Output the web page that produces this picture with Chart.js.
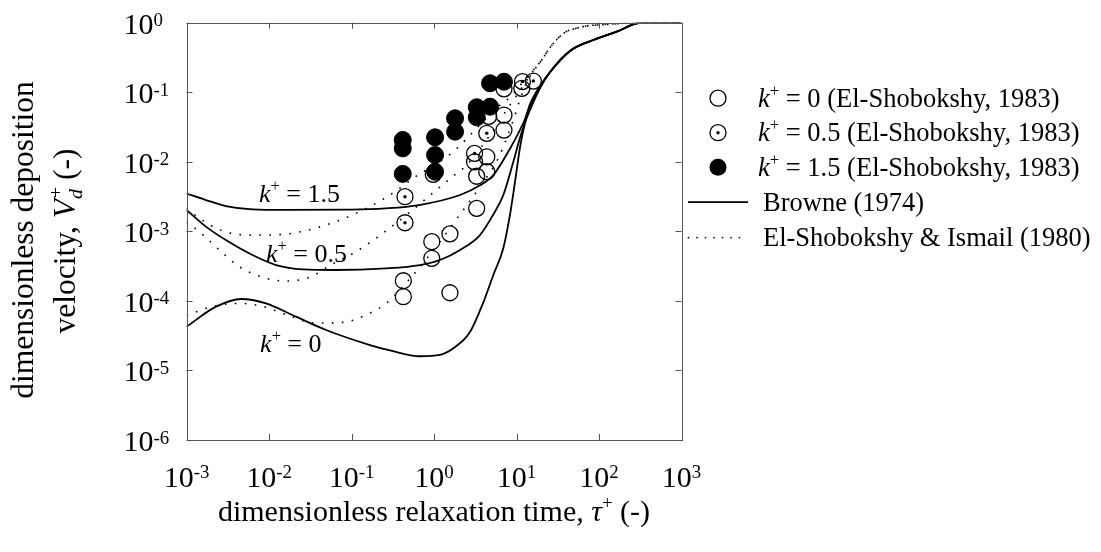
<!DOCTYPE html>
<html><head><meta charset="utf-8">
<script src="https://cdn.jsdelivr.net/npm/chart.js@4.4.0/dist/chart.umd.min.js"></script>
<style>html,body{margin:0;padding:0;background:#fff;}#wrap{width:1101px;height:552px;}</style>
</head><body><div id="wrap"><canvas id="c" width="1101" height="552"></canvas></div>
<script>
// ---- tick labels ----
const xTickValues = [1e-3, 1e-2, 1e-1, 1, 10, 100, 1000];
const xTickExps = ['-3', '-2', '-1', '0', '1', '2', '3'];
const yTickValues = [1e-6, 1e-5, 1e-4, 1e-3, 1e-2, 1e-1, 1];
const yTickExps = ['-6', '-5', '-4', '-3', '-2', '-1', '0'];

// ---- measured points (El-Shobokshy, 1983) [tau+, Vd+] ----
const obsK0 = [[0.425,1.95e-4],[0.425,1.15e-4],[0.94,7.1e-4],[0.94,4.1e-4],[1.56,9.2e-4],[1.56,1.31e-4],
  [3.29,2.14e-3],[3.29,6.2e-3],[3.1,0.0100],[4.36,0.0118],[4.36,0.0072],[4.6,0.045],[7.05,0.047],
  [7.05,0.0286],[7.05,0.112],[11.6,0.114]];
const obsK05 = [[0.445,3.15e-3],[0.445,1.33e-3],[0.98,6.6e-3],[3.1,0.0132],[4.36,0.0257],[11.8,0.142],[16,0.145]];
const obsK15 = [[0.418,0.0206],[0.418,0.0156],[0.418,0.0067],[1.03,0.0225],[1.03,0.0125],[1.03,0.0072],
  [1.80,0.0422],[1.80,0.0271],[3.30,0.0608],[3.30,0.0436],[4.78,0.062],[4.78,0.1345],[7.05,0.1418]];

// ---- Browne (1974) curves ----
const browneK0 = [[1e-3,4.26e-5],[2.28e-3,8.26e-5],[4.58e-3,1.065e-4],[9.2e-3,9.2e-5],[0.0212,5.93e-5],
  [0.0491,3.82e-5],[0.1675,2.32e-5],[0.293,1.94e-5],[0.676,1.6e-5],[1.18,1.67e-5],[1.80,2.17e-5],
  [2.73,3.57e-5],[3.93,9.3e-5],[5.24,2.36e-4],[6.92,5.7e-4],[8.33,1.72e-3],[9.6,5.17e-3],[11.0,0.0158],
  [12.7,0.0361],[14.6,0.0556],[19.3,0.115],[25.5,0.195],[44.5,0.392],[85,0.564],[164,0.743],[300,0.985],[450,1],[1000,1]];
const browneK05 = [[1e-3,2.03e-3],[1.72e-3,1.17e-3],[3e-3,7.5e-4],[6.3e-3,4.57e-4],[0.0122,3.28e-4],
  [0.0256,2.84e-4],[0.065,2.78e-4],[0.262,2.94e-4],[0.676,3.28e-4],[1.18,3.87e-4],[2.07,5.4e-4],
  [3.61,8.85e-4],[5.19,1.72e-3],[6.92,3.33e-3],[9.15,0.0100],[11.0,0.022],[12.7,0.0373],[14.6,0.0634],
  [19.3,0.119],[25.5,0.195],[44.5,0.392],[85,0.564],[164,0.743],[300,0.985],[450,1],[1000,1]];
const browneK15 = [[1e-3,3.5e-3],[1.72e-3,2.82e-3],[3e-3,2.31e-3],[6.3e-3,2.07e-3],[0.016,2.03e-3],
  [0.1,2.05e-3],[0.26,2.14e-3],[0.66,2.39e-3],[2.07,3.33e-3],[3.61,4.6e-3],[5.24,6.45e-3],[8.3,0.0153],
  [11.0,0.0286],[12.7,0.0412],[14.6,0.0677],[19.3,0.123],[25.5,0.195],[44.5,0.392],[85,0.564],
  [164,0.743],[300,0.985],[450,1],[1000,1]];

// ---- El-Shobokshy & Ismail (1980) curves ----
const esiK0 = [[1e-3,6.2e-5],[2.32e-3,8.6e-5],[4.45e-3,9.2e-5],[8.5e-3,8.3e-5],[0.0164,6.3e-5],
  [0.0372,4.8e-5],[0.0875,5.0e-5],[0.15,6.3e-5],[0.262,9.2e-5],[0.537,2.23e-4],[0.853,4.32e-4],
  [1.97,1.62e-3],[3.61,4.38e-3],[6.01,0.0112],[9.15,0.0399],[11.0,0.0774],[13,0.13],[16,0.2],
  [20.2,0.291],[24.3,0.405],[30.4,0.564],[40,0.743],[53,0.83],[71,0.9],[102,0.93],[180,0.974],[300,1],[1000,1]];
const esiK05 = [[1e-3,1.35e-3],[1.43e-3,9.9e-4],[2.5e-3,5.4e-4],[4.37e-3,3.1e-4],[8.4e-3,2.18e-4],
  [0.0161,1.93e-4],[0.0308,2.18e-4],[0.059,3.4e-4],[0.1135,5.1e-4],[0.255,9.9e-4],[0.561,2.07e-3],
  [0.98,3.6e-3],[1.71,6.25e-3],[2.38,8.5e-3],[4.78,0.0243],[8.3,0.065],[11.0,0.105],[16,0.205],
  [20.2,0.291],[24.3,0.405],[30.4,0.564],[40,0.743],[53,0.83],[71,0.9],[102,0.93],[180,0.974],[300,1],[1000,1]];
const esiK15 = [[1e-3,2.15e-3],[1.42e-3,1.56e-3],[2.55e-3,1.05e-3],[5.4e-3,8.85e-4],[9.2e-3,8.85e-4],
  [0.0212,9.57e-4],[0.0649,1.38e-3],[0.181,2.39e-3],[0.337,3.72e-3],[0.561,5.8e-3],[1.71,0.014],
  [3.61,0.034],[6.0,0.062],[8.3,0.085],[11.0,0.125],[16,0.209],[20.2,0.291],[24.3,0.405],[30.4,0.564],
  [40,0.743],[53,0.83],[71,0.9],[102,0.93],[180,0.974],[300,1],[1000,1]];

// ---- texts ----
const legendLabels = [' = 0 (El-Shobokshy, 1983)', ' = 0.5 (El-Shobokshy, 1983)', ' = 1.5 (El-Shobokshy, 1983)', 'Browne (1974)', 'El-Shobokshy & Ismail (1980)'];
const curveLabels = [' = 1.5', ' = 0.5', ' = 0'];
const xTitle = 'dimensionless relaxation time, ';
const yTitle1 = 'dimensionless deposition';
const yTitle2 = 'velocity, ';

const FONT = '"Liberation Serif", "Times New Roman", serif';
const toXY = a => a.map(p => ({x: p[0], y: p[1]}));

function fontStr(size, it) { return (it ? 'italic ' : '') + size + 'px ' + FONT; }
function richText(ctx, segs, x, y, size, align) {
  const ws = [];
  let total = 0;
  for (const s of segs) {
    let w;
    if (s.sup || s.sub) {
      const fs = size * 0.63;
      ctx.font = fontStr(fs, s.it);
      w = ctx.measureText(s.t).width;
      if (s.stack) { ctx.font = fontStr(fs, false); w = Math.max(w, ctx.measureText(s.stack).width); }
    } else { ctx.font = fontStr(size, s.it); w = ctx.measureText(s.t).width; }
    ws.push(w); total += w;
  }
  let cx = align === 'center' ? x - total / 2 : (align === 'right' ? x - total : x);
  ctx.textBaseline = 'alphabetic'; ctx.textAlign = 'left'; ctx.fillStyle = '#000';
  segs.forEach((s, i) => {
    if (s.sup) { ctx.font = fontStr(size * 0.63, s.it); ctx.fillText(s.t, cx, y - size * (s.raise || 0.33)); }
    else if (s.sub) {
      ctx.font = fontStr(size * 0.63, s.it); ctx.fillText(s.t, cx, y + size * 0.22);
      if (s.stack) { ctx.font = fontStr(size * 0.63, false); ctx.fillText(s.stack, cx + 1, y - size * 0.42); }
    } else { ctx.font = fontStr(size, s.it); ctx.fillText(s.t, cx, y); }
    cx += ws[i];
  });
}

const decor = {
  id: 'decor',
  beforeDraw(chart) {
    const ctx = chart.ctx;
    ctx.save(); ctx.fillStyle = '#fff'; ctx.fillRect(0, 0, chart.width, chart.height); ctx.restore();
  },
  afterDraw(chart) {
    const ctx = chart.ctx, a = chart.chartArea, xs = chart.scales.x, ys = chart.scales.y;
    ctx.save();
    // box
    ctx.strokeStyle = '#555'; ctx.lineWidth = 1;
    ctx.strokeRect(Math.round(a.left) + 0.5, Math.round(a.top) + 0.5, Math.round(a.right - a.left), Math.round(a.bottom - a.top));
    // ticks (inward, all sides)
    ctx.beginPath();
    xTickValues.forEach(v => {
      const px = Math.round(xs.getPixelForValue(v)) + 0.5;
      ctx.moveTo(px, a.bottom); ctx.lineTo(px, a.bottom - 6);
      ctx.moveTo(px, a.top); ctx.lineTo(px, a.top + 6);
    });
    yTickValues.forEach(v => {
      const py = Math.round(ys.getPixelForValue(v)) + 0.5;
      ctx.moveTo(a.left, py); ctx.lineTo(a.left + 6, py);
      ctx.moveTo(a.right, py); ctx.lineTo(a.right - 6, py);
    });
    ctx.stroke();
    // tick labels
    xTickValues.forEach((v, i) => {
      richText(ctx, [{t: '10'}, {t: xTickExps[i], sup: true, raise: 0.3}], xs.getPixelForValue(v), a.bottom + 47, 30, 'center');
    });
    yTickValues.forEach((v, i) => {
      richText(ctx, [{t: '10'}, {t: yTickExps[i], sup: true, raise: 0.25}], a.left - 63, ys.getPixelForValue(v) + 11, 30, 'left');
    });
    // axis titles
    richText(ctx, [{t: xTitle}, {t: 'τ', it: true}, {t: '+', sup: true, raise: 0.4}, {t: ' (-)'}], (a.left + a.right) / 2, 521, 30, 'center');
    ctx.save(); ctx.translate(33, 240); ctx.rotate(-Math.PI / 2);
    richText(ctx, [{t: yTitle1}], 0, 0, 31.5, 'center');
    ctx.restore();
    ctx.save(); ctx.translate(75, 241); ctx.rotate(-Math.PI / 2);
    richText(ctx, [{t: yTitle2}, {t: 'V', it: true}, {t: 'd', it: true, sub: true, stack: '+'}, {t: ' (-)'}], 0, 0, 31.5, 'center');
    ctx.restore();
    // curve labels (anchored in data coordinates)
    const anchors = [[7.57e-3, 2.64e-3], [9.2e-3, 3.62e-4], [7.8e-3, 1.86e-5]];
    anchors.forEach((p, i) => {
      richText(ctx, [{t: 'k', it: true}, {t: '+', sup: true, raise: 0.42}, {t: curveLabels[i]}],
        xs.getPixelForValue(p[0]), ys.getPixelForValue(p[1]), 26, 'left');
    });
    // legend
    const sx = a.right + 36.5, tx = a.right + 76.5, tx2 = a.right + 81.5;
    const rows = [75.5, 110, 144.5, 179.5, 215].map(d => a.top + d);
    ctx.strokeStyle = '#000'; ctx.fillStyle = '#000';
    ctx.lineWidth = 1.3;
    ctx.beginPath(); ctx.arc(sx, rows[0], 8, 0, Math.PI * 2); ctx.stroke();
    ctx.beginPath(); ctx.arc(sx, rows[1], 8, 0, Math.PI * 2); ctx.stroke();
    ctx.beginPath(); ctx.arc(sx, rows[1], 1.7, 0, Math.PI * 2); ctx.fill();
    ctx.beginPath(); ctx.arc(sx, rows[2], 8.5, 0, Math.PI * 2); ctx.fill();
    ctx.lineWidth = 1.8; ctx.beginPath(); ctx.moveTo(a.right + 6.5, rows[3]); ctx.lineTo(a.right + 66.5, rows[3]); ctx.stroke();
    for (let d = a.right + 7; d <= a.right + 66; d += 8.5) { ctx.fillRect(d - 0.75, rows[4] - 0.75, 1.5, 1.5); }
    for (let i = 0; i < 3; i++) {
      richText(ctx, [{t: 'k', it: true}, {t: '+', sup: true, raise: 0.42}, {t: legendLabels[i]}], tx, rows[i] + 8.5, 26.5, 'left');
    }
    richText(ctx, [{t: legendLabels[3]}], tx2, rows[3] + 8.5, 26.5, 'left');
    richText(ctx, [{t: legendLabels[4]}], tx2, rows[4] + 8.5, 26.5, 'left');
    ctx.restore();
  }
};

const lineDs = (label, arr, dotted, order) => ({
  label, data: toXY(arr), showLine: true, pointRadius: 0, borderColor: '#000',
  borderWidth: dotted ? 1.6 : 1.8, borderDash: dotted ? [1.6, 8.4] : [], cubicInterpolationMode: 'monotone',
  fill: false, order
});

new Chart(document.getElementById('c'), {
  type: 'scatter',
  data: {
    datasets: [
      {label: 'k+ = 1.5 (El-Shobokshy, 1983)', data: toXY(obsK15), pointStyle: 'circle', pointRadius: 8.5,
        backgroundColor: '#000', borderColor: '#000', borderWidth: 1, order: 0},
      {label: 'k+ = 0.5 centre', data: toXY(obsK05), pointStyle: 'circle', pointRadius: 1.7,
        backgroundColor: '#000', borderColor: '#000', borderWidth: 0, order: 1},
      {label: 'k+ = 0.5 (El-Shobokshy, 1983)', data: toXY(obsK05), pointStyle: 'circle', pointRadius: 8,
        backgroundColor: 'rgba(0,0,0,0)', borderColor: '#000', borderWidth: 1.3, order: 2},
      {label: 'k+ = 0 (El-Shobokshy, 1983)', data: toXY(obsK0), pointStyle: 'circle', pointRadius: 8,
        backgroundColor: 'rgba(0,0,0,0)', borderColor: '#000', borderWidth: 1.3, order: 3},
      lineDs('Browne k+=0', browneK0, false, 4),
      lineDs('Browne k+=0.5', browneK05, false, 5),
      lineDs('Browne k+=1.5', browneK15, false, 6),
      lineDs('ESI k+=0', esiK0, true, 7),
      lineDs('ESI k+=0.5', esiK05, true, 8),
      lineDs('ESI k+=1.5', esiK15, true, 9)
    ]
  },
  options: {
    responsive: false, animation: false, events: [], devicePixelRatio: 1,
    layout: {padding: {left: 186.5, top: 22.7, right: 419.5, bottom: 112}},
    scales: {
      x: {type: 'logarithmic', min: 1e-3, max: 1e3, display: false},
      y: {type: 'logarithmic', min: 1e-6, max: 1, display: false}
    },
    plugins: {legend: {display: false}, tooltip: {enabled: false}}
  },
  plugins: [decor]
});
</script></body></html>
